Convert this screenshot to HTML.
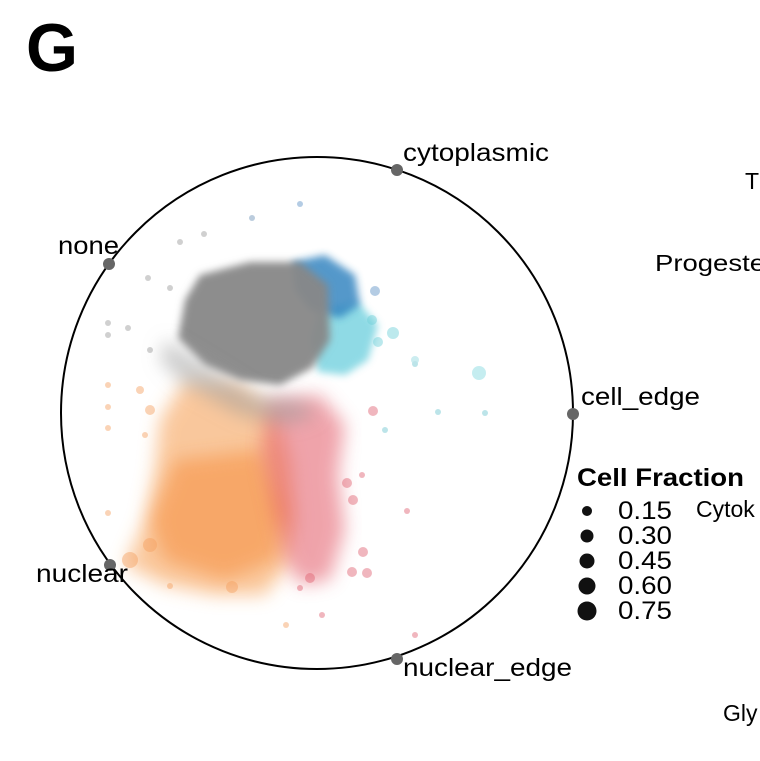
<!DOCTYPE html>
<html><head><style>
html,body{margin:0;padding:0;background:#fff;width:760px;height:761px;overflow:hidden}
svg{display:block}
text{font-family:"Liberation Sans",Arial,sans-serif;fill:#000}
</style></head><body>
<svg width="760" height="761" viewBox="0 0 760 761">
<defs>
<filter id="b" x="-20%" y="-20%" width="140%" height="140%"><feGaussianBlur stdDeviation="4"/></filter>
<filter id="b2" x="-20%" y="-20%" width="140%" height="140%"><feGaussianBlur stdDeviation="9"/></filter>
</defs>
<text x="26" y="71" font-size="68" font-weight="bold" textLength="52" lengthAdjust="spacingAndGlyphs">G</text>

<!-- orange region -->
<g filter="url(#b2)" opacity="0.5">
<path d="M185,380 L240,385 L275,410 L290,460 L295,520 L288,565 L265,595 L215,595 L165,585 L125,565 L145,520 L155,470 L160,420 Z" fill="#f5913a"/>
</g>
<g filter="url(#b2)" opacity="0.45">
<path d="M175,460 L260,450 L285,510 L275,560 L225,580 L165,560 L150,520 Z" fill="#f5822a"/>
</g>
<!-- red region -->
<g filter="url(#b2)" opacity="0.5">
<path d="M268,400 L320,395 L345,425 L338,475 L345,530 L330,580 L300,585 L285,560 L272,500 L262,450 Z" fill="#e04a58"/>
</g>
<!-- cyan -->
<g filter="url(#b)" opacity="0.6">
<path d="M318,312 L358,302 L378,325 L368,360 L345,375 L318,372 L310,340 Z" fill="#45c2d4"/>
</g>
<!-- blue -->
<g filter="url(#b)" opacity="0.8">
<path d="M292,262 L325,255 L355,275 L360,305 L340,318 L310,310 L295,290 Z" fill="#2a7fbd"/>
</g>
<!-- gray -->
<g filter="url(#b)">
<path d="M200,275 L250,262 L300,262 L328,285 L330,340 L312,368 L280,385 L240,380 L205,365 L178,338 L185,300 Z" fill="#888" opacity="0.95"/>
</g>
<g filter="url(#b2)">
<path d="M165,340 L215,370 L255,395 L300,400 L318,415 L285,425 L240,415 L185,385 L160,360 Z" fill="#999" opacity="0.5"/>
</g>

<!-- scattered points -->
<g opacity="0.45">
<circle cx="300" cy="204" r="3" fill="#5b8fc5"/><circle cx="252" cy="218" r="3" fill="#6a8fb5"/>
<circle cx="204" cy="234" r="3" fill="#999"/><circle cx="180" cy="242" r="3" fill="#999"/>
<circle cx="148" cy="278" r="3" fill="#999"/><circle cx="170" cy="288" r="3" fill="#999"/>
<circle cx="108" cy="323" r="3" fill="#999"/><circle cx="128" cy="328" r="3" fill="#999"/>
<circle cx="108" cy="335" r="3" fill="#999"/><circle cx="150" cy="350" r="3" fill="#999"/>
<circle cx="375" cy="291" r="5" fill="#5b8fc5"/><circle cx="393" cy="333" r="6" fill="#6ccfd8"/>
<circle cx="372" cy="320" r="5" fill="#6ccfd8"/><circle cx="378" cy="342" r="5" fill="#6ccfd8"/>
<circle cx="479" cy="373" r="7" fill="#7fd8e0"/><circle cx="415" cy="360" r="4" fill="#8fd8e0"/>
<circle cx="438" cy="412" r="3" fill="#6cc4cf"/><circle cx="485" cy="413" r="3" fill="#6cc4cf"/>
<circle cx="415" cy="364" r="3" fill="#6cc4cf"/><circle cx="385" cy="430" r="3" fill="#6cc4cf"/>
<circle cx="373" cy="411" r="5" fill="#e06070"/><circle cx="347" cy="483" r="5" fill="#e06070"/>
<circle cx="362" cy="475" r="3" fill="#e06070"/><circle cx="407" cy="511" r="3" fill="#e06070"/>
<circle cx="363" cy="552" r="5" fill="#e06070"/><circle cx="352" cy="572" r="5" fill="#e06070"/>
<circle cx="367" cy="573" r="5" fill="#e06070"/><circle cx="353" cy="500" r="5" fill="#e06070"/>
<circle cx="322" cy="615" r="3" fill="#e06070"/><circle cx="415" cy="635" r="3" fill="#e06070"/>
<circle cx="310" cy="578" r="5" fill="#e06070"/><circle cx="300" cy="588" r="3" fill="#e06070"/>
<circle cx="108" cy="385" r="3" fill="#f5a060"/><circle cx="108" cy="407" r="3" fill="#f5a060"/>
<circle cx="108" cy="428" r="3" fill="#f5a060"/><circle cx="108" cy="513" r="3" fill="#f5a060"/>
<circle cx="130" cy="560" r="8" fill="#f5a060"/><circle cx="170" cy="586" r="3" fill="#f5a060"/>
<circle cx="145" cy="435" r="3" fill="#f5a060"/><circle cx="150" cy="410" r="5" fill="#f5a060"/>
<circle cx="140" cy="390" r="4" fill="#f5a060"/><circle cx="286" cy="625" r="3" fill="#f5a060"/>
<circle cx="232" cy="587" r="6" fill="#f5a060"/><circle cx="150" cy="545" r="7" fill="#f5a060"/>
</g>

<!-- main circle -->
<circle cx="317" cy="413" r="256" fill="none" stroke="#000" stroke-width="2"/>
<g fill="#666">
<circle cx="397" cy="170" r="6"/><circle cx="109" cy="264" r="6"/>
<circle cx="573" cy="414" r="6"/><circle cx="110" cy="565" r="6"/>
<circle cx="397" cy="659" r="6"/>
</g>
<g font-size="25">
<text x="403" y="161" textLength="146" lengthAdjust="spacingAndGlyphs">cytoplasmic</text>
<text x="58" y="254" textLength="61" lengthAdjust="spacingAndGlyphs">none</text>
<text x="581" y="405" textLength="119" lengthAdjust="spacingAndGlyphs">cell_edge</text>
<text x="36" y="582" textLength="92" lengthAdjust="spacingAndGlyphs">nuclear</text>
<text x="403" y="676" textLength="169" lengthAdjust="spacingAndGlyphs">nuclear_edge</text>
</g>

<!-- legend -->
<text x="577" y="486" font-size="25" font-weight="bold" textLength="167" lengthAdjust="spacingAndGlyphs">Cell Fraction</text>
<g fill="#111">
<circle cx="587" cy="511" r="5"/><circle cx="587" cy="536" r="6.5"/>
<circle cx="587" cy="561" r="7.5"/><circle cx="587" cy="586" r="8.5"/>
<circle cx="587" cy="611" r="9.5"/>
</g>
<g font-size="25">
<text x="618" y="519" textLength="54" lengthAdjust="spacingAndGlyphs">0.15</text>
<text x="618" y="544" textLength="54" lengthAdjust="spacingAndGlyphs">0.30</text>
<text x="618" y="569" textLength="54" lengthAdjust="spacingAndGlyphs">0.45</text>
<text x="618" y="594" textLength="54" lengthAdjust="spacingAndGlyphs">0.60</text>
<text x="618" y="619" textLength="54" lengthAdjust="spacingAndGlyphs">0.75</text>
</g>
<g font-size="23">
<text x="745" y="189">T</text>
<text x="655" y="271" textLength="110" lengthAdjust="spacingAndGlyphs">Progeste</text>
<text x="696" y="517">Cytok</text>
<text x="723" y="721">Gly</text>
</g>
</svg>
</body></html>
